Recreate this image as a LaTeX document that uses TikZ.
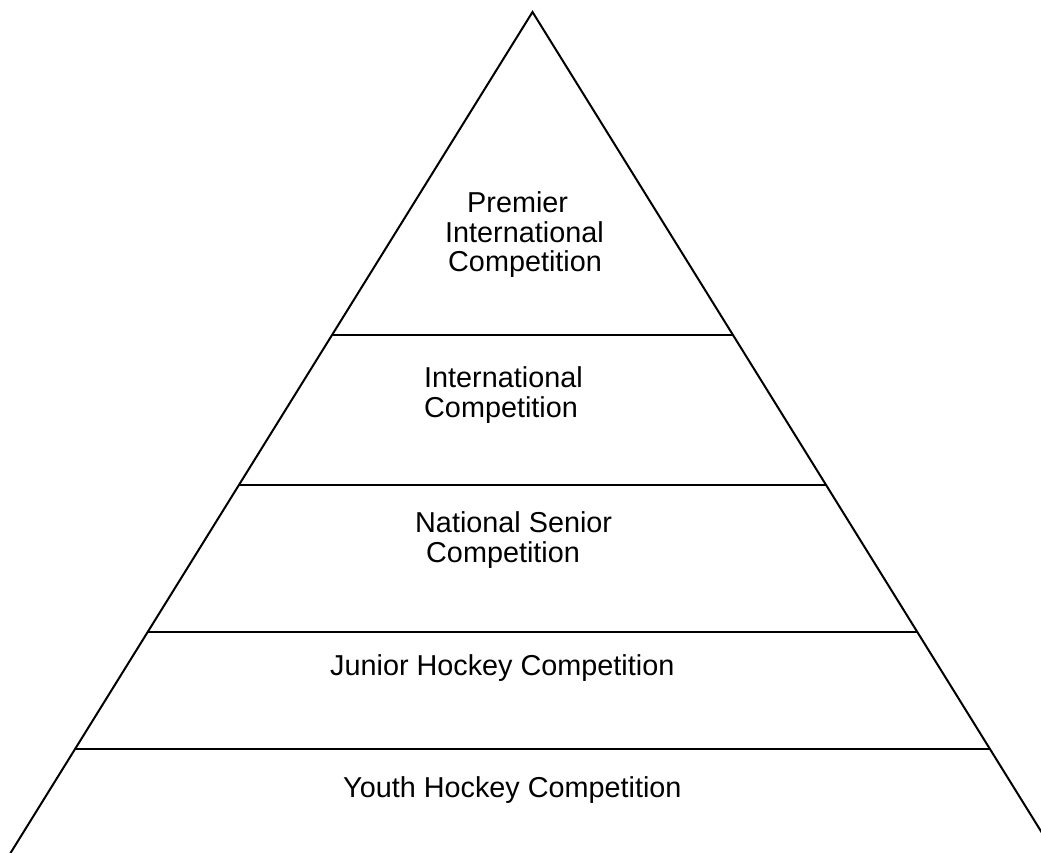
\documentclass[tikz,border=0pt]{standalone}
\usepackage{fontspec}
\setmainfont{Liberation Sans}
\begin{document}
\begin{tikzpicture}[x=1pt,y=-1pt,
  edge/.style={line width=2pt,line cap=round},
  lbl/.style={anchor=base west,inner sep=0pt,font=\fontsize{28.8}{29}\selectfont}]
\useasboundingbox (0,0) rectangle (1041,852);
\clip (0,0) rectangle (1041,852);
\coordinate (apex) at (532.5,12);
\coordinate (bl) at (-5,878);
\coordinate (br) at (1070,878);
\coordinate (l1) at (332.5,335); \coordinate (r1) at (732.5,335);
\coordinate (l2) at (239.5,485); \coordinate (r2) at (825.5,485);
\coordinate (l3) at (148,632);   \coordinate (r3) at (917,632);
\coordinate (l4) at (75.5,749);  \coordinate (r4) at (989.5,749);
\draw[edge] (bl) -- (apex) -- (br);
\draw[edge] (l1) -- (r1);
\draw[edge] (l2) -- (r2);
\draw[edge] (l3) -- (r3);
\draw[edge] (l4) -- (r4);
\node[lbl] (t1a) at (467,212) {Premier};
\node[lbl] (t1b) at (445,242) {International};
\node[lbl] (t1c) at (448,271) {Competition};
\node[lbl] (t2a) at (424,387) {International};
\node[lbl] (t2b) at (424,417) {Competition};
\node[lbl] (t3a) at (415,532) {National Senior};
\node[lbl] (t3b) at (426,562) {Competition};
\node[lbl] (t4) at (330,675) {Junior Hockey Competition};
\node[lbl] (t5) at (343,797) {Youth Hockey Competition};
\end{tikzpicture}
\end{document}
